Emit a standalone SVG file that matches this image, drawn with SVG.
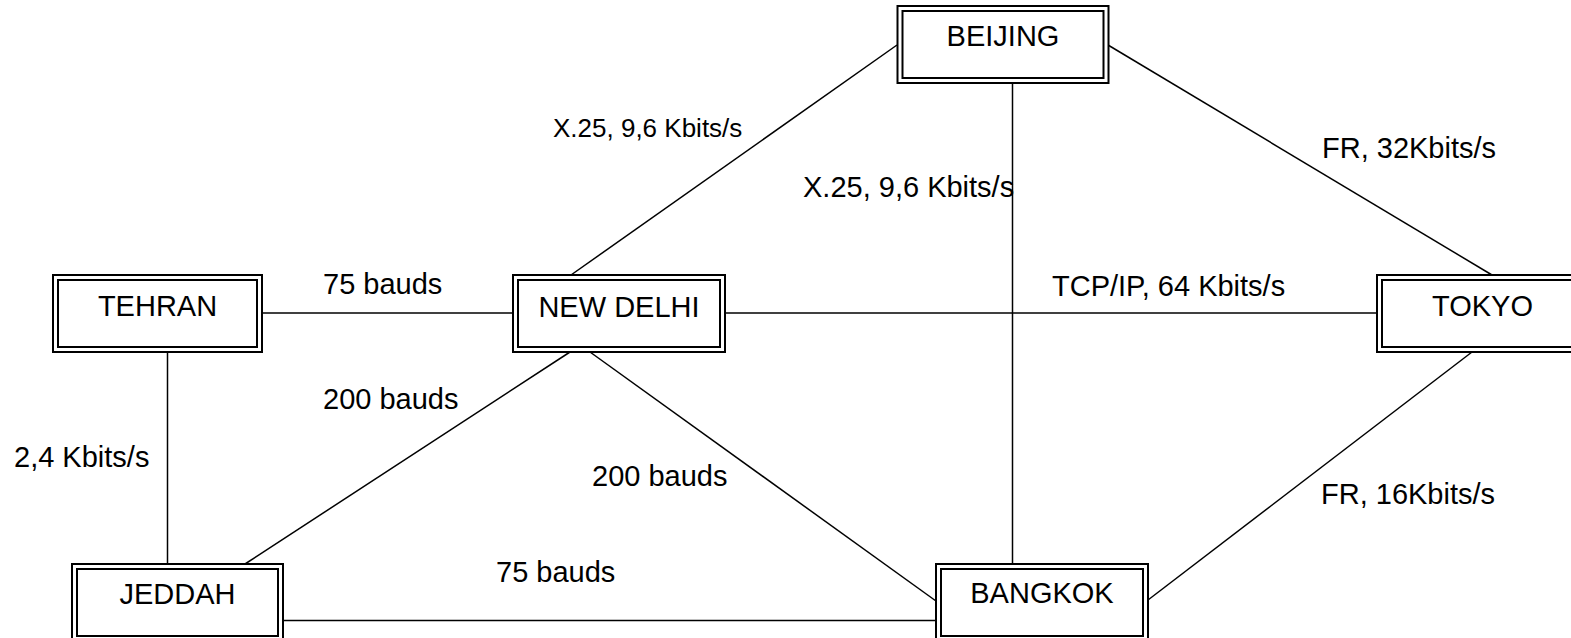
<svg xmlns="http://www.w3.org/2000/svg" width="1571" height="638" viewBox="0 0 1571 638">
<style>
  .ln { stroke: #000; stroke-width: 1.5; fill: none; }
  .bo { fill: #fff; stroke: #000; stroke-width: 2; }
  .bi { fill: none; stroke: #000; stroke-width: 2; }
  text { font-family: "Liberation Sans", Arial, sans-serif; font-size: 29px; fill: #000; }
  .nt { text-anchor: middle; }
</style>
<rect width="1571" height="638" fill="#fff"/>
<g id="connectors">
  <line class="ln" x1="571" y1="275" x2="897" y2="45"/>
  <line class="ln" x1="1012.5" y1="83" x2="1012.5" y2="564"/>
  <line class="ln" x1="1108" y1="45" x2="1492" y2="275"/>
  <line class="ln" x1="262" y1="313" x2="513" y2="313"/>
  <line class="ln" x1="725" y1="313" x2="1377" y2="313"/>
  <line class="ln" x1="167.5" y1="352" x2="167.5" y2="564"/>
  <line class="ln" x1="570" y1="352" x2="245" y2="564"/>
  <line class="ln" x1="590" y1="352" x2="936" y2="601"/>
  <line class="ln" x1="283" y1="620.5" x2="936" y2="620.5"/>
  <line class="ln" x1="1472" y1="352" x2="1148" y2="600"/>
  <text x="553" y="137" style="font-size:26px">X.25, 9,6 Kbits/s</text>
  <text x="803" y="197">X.25, 9,6 Kbits/s</text>
  <text x="1322" y="158">FR, 32Kbits/s</text>
  <text x="1052" y="296">TCP/IP, 64 Kbits/s</text>
  <text x="323" y="294">75 bauds</text>
  <text x="323" y="409">200 bauds</text>
  <text x="14" y="467">2,4 Kbits/s</text>
  <text x="592" y="486">200 bauds</text>
  <text x="496" y="582">75 bauds</text>
  <text x="1321" y="504">FR, 16Kbits/s</text>
</g>
<g id="beijing">
  <rect class="bo" x="897.5" y="6" width="211" height="77"/>
  <rect class="bi" x="902.5" y="11" width="201" height="67"/>
  <text class="nt" x="1003" y="46">BEIJING</text>
</g>
<g id="tehran">
  <rect class="bo" x="53" y="275" width="209" height="77"/>
  <rect class="bi" x="58" y="280" width="199" height="67"/>
  <text class="nt" x="157.5" y="316">TEHRAN</text>
</g>
<g id="newdelhi">
  <rect class="bo" x="513" y="275" width="212" height="77"/>
  <rect class="bi" x="518" y="280" width="202" height="67"/>
  <text class="nt" x="619" y="317">NEW DELHI</text>
</g>
<g id="tokyo">
  <rect class="bo" x="1377" y="275" width="211" height="77"/>
  <rect class="bi" x="1382" y="280" width="201" height="67"/>
  <text class="nt" x="1482.5" y="316">TOKYO</text>
</g>
<g id="jeddah">
  <rect class="bo" x="72" y="564" width="211" height="77"/>
  <rect class="bi" x="77" y="569" width="201" height="67"/>
  <text class="nt" x="177.5" y="604">JEDDAH</text>
</g>
<g id="bangkok">
  <rect class="bo" x="936" y="564" width="212" height="77"/>
  <rect class="bi" x="941" y="569" width="202" height="67"/>
  <text class="nt" x="1042" y="603">BANGKOK</text>
</g>
</svg>
